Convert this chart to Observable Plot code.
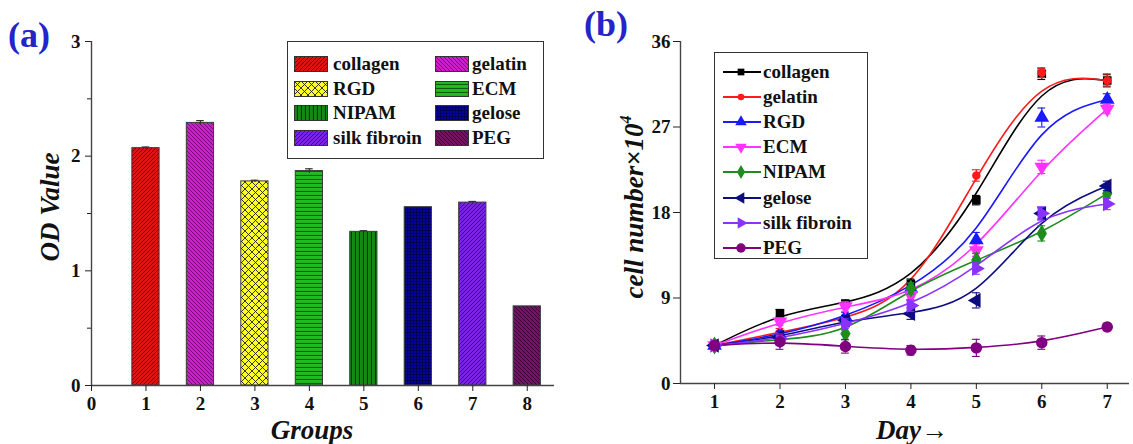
<!DOCTYPE html>
<html><head><meta charset="utf-8">
<script src="https://cdn.jsdelivr.net/npm/d3@7"></script>
<script src="https://cdn.jsdelivr.net/npm/@observablehq/plot@0.6"></script>
<style>
body{margin:0;background:#fff;}
#wrap{position:relative;width:1133px;height:444px;overflow:hidden;font-family:'Liberation Serif','DejaVu Serif',serif;color:#111;}
.abs{position:absolute;}
.panel{position:absolute;top:0;}
.plab{position:absolute;font-weight:bold;font-size:36px;color:#2424c8;line-height:1;font-family:'Liberation Serif','DejaVu Serif',serif;}
.atitle{position:absolute;font-weight:bold;font-style:italic;font-size:27px;line-height:1;white-space:nowrap;font-family:'Liberation Serif','DejaVu Serif',serif;}
.legbox{position:absolute;border:1.4px solid #333;background:#fff;box-sizing:border-box;}
.legtxt{position:absolute;font-weight:bold;font-size:19px;line-height:1;white-space:nowrap;font-family:'Liberation Serif','DejaVu Serif',serif;}
</style></head>
<body><div id="wrap"></div>
<script>
// ---------- Panel (a) data ----------
const groupTicks = [0, 1, 2, 3, 4, 5, 6, 7, 8];
const groups = [1, 2, 3, 4, 5, 6, 7, 8];
const materials = ["collagen", "gelatin", "RGD", "ECM", "NIPAM", "gelose", "silk fibroin", "PEG"];
const odValues = [2.07, 2.29, 1.78, 1.87, 1.34, 1.555, 1.595, 0.69];
const odErrors = [0.01, 0.02, 0.01, 0.02, 0.01, 0, 0.01, 0];
const odTicks = [0, 1, 2, 3];
const odMinorTicks = [0.5, 1.5, 2.5];

// ---------- Panel (b) data ----------
const days = [1, 2, 3, 4, 5, 6, 7];
const seriesNames = ["collagen", "gelatin", "RGD", "ECM", "NIPAM", "gelose", "silk fibroin", "PEG"];
const collagenCells = [4.0, 7.4, 8.4, 10.5, 19.3, 32.6, 31.9];
const gelatinCells  = [4.0, 5.4, 6.8, 9.3, 21.9, 32.7, 31.9];
const rgdCells      = [4.0, 5.1, 7.0, 10.0, 15.1, 28.0, 29.9];
const ecmCells      = [4.0, 6.5, 8.1, 9.3, 14.0, 22.8, 28.9];
const nipamCells    = [4.0, 4.6, 5.25, 10.0, 13.0, 15.8, 20.0];
const geloseCells   = [4.0, 4.9, 6.65, 7.35, 8.75, 17.9, 20.8];
const silkCells     = [4.0, 4.7, 6.3, 8.2, 12.1, 17.9, 18.9];
const pegCells      = [4.0, 4.4, 3.9, 3.5, 3.75, 4.3, 5.95];
const collagenErr = [0.3, 0.4, 0.4, 0.5, 0.5, 0.6, 0.6];
const gelatinErr  = [0.3, 0.4, 0.4, 0.5, 0.6, 0.5, 0.7];
const rgdErr      = [0.3, 0.4, 0.5, 0.5, 0.8, 1.0, 0.6];
const ecmErr      = [0.3, 0.4, 0.5, 0.5, 0.6, 0.7, 0.5];
const nipamErr    = [0.3, 0.5, 0.6, 0.6, 0.7, 0.8, 0.5];
const geloseErr   = [0.3, 0.5, 0.5, 0.6, 0.8, 0.6, 0.5];
const silkErr     = [0.3, 0.5, 0.5, 0.6, 0.6, 0.7, 0.6];
const pegErr      = [0.3, 0.8, 0.7, 0.5, 0.9, 0.7, 0.4];
const cellTicks = [0, 9, 18, 27, 36];

// ---------- styles ----------
const barBase  = ["#dc1414", "#cc1fcc", "#ffff26", "#22bb22", "#138a13", "#050596", "#7a22e6", "#761264"];
const barLine  = ["#7a0000", "#7a0a7a", "#222", "#0b5e0b", "#023a02", "#00004a", "#3c0a8c", "#3a0030"];
const seriesColors = ["#000000", "#ff1a1a", "#1a1aff", "#ff33ff", "#1e8c1e", "#0d0d80", "#8a33ff", "#800080"];
const seriesSymbols = ["square", "circle", "triangle", "triangle", "diamond", "triangle", "triangle", "circle"];
const seriesRotate = [0, 0, 0, 180, 0, -90, 90, 0];
const seriesR = [4, 3.5, 4.5, 4.5, 4.5, 4.5, 4.5, 5];

const wrap = document.getElementById("wrap");

// ---------- pattern defs ----------
function patternDef(i) {
  const id = "pat" + i, b = barBase[i], l = barLine[i];
  const kind = ["fwd", "back", "cross", "horiz", "vert", "grid", "fwd", "back"][i];
  let inner = `<rect width="8" height="8" fill="${b}"/>`;
  let size = 4;
  if (kind === "fwd") inner = `<rect width="4" height="4" fill="${b}"/><path d="M-1,1 l2,-2 M0,4 l4,-4 M3,5 l2,-2" stroke="${l}" stroke-width="1"/>`;
  if (kind === "back") inner = `<rect width="4" height="4" fill="${b}"/><path d="M-1,3 l2,2 M0,0 l4,4 M3,-1 l2,2" stroke="${l}" stroke-width="1"/>`;
  if (kind === "cross") { size = 7; inner = `<rect width="7" height="7" fill="${b}"/><path d="M0,0 L7,7 M7,0 L0,7" stroke="${l}" stroke-width="0.9"/>`; }
  if (kind === "horiz") inner = `<rect width="4" height="4" fill="${b}"/><path d="M0,3.5 H4" stroke="${l}" stroke-width="1.2"/>`;
  if (kind === "vert") inner = `<rect width="4" height="4" fill="${b}"/><path d="M3.5,0 V4" stroke="${l}" stroke-width="1.2"/>`;
  if (kind === "grid") { size = 3; inner = `<rect width="3" height="3" fill="${b}"/><path d="M2.5,0 V3 M0,2.5 H3" stroke="${l}" stroke-width="0.8"/>`; }
  return `<pattern id="${id}" patternUnits="userSpaceOnUse" width="${size}" height="${size}">${inner}</pattern>`;
}
const defsSvg = `<svg width="0" height="0" style="position:absolute"><defs>${materials.map((m, i) => patternDef(i)).join("")}</defs></svg>`;
wrap.insertAdjacentHTML("beforeend", defsSvg);

const font = "'Liberation Serif','DejaVu Serif',serif";

// ---------- Panel (a) ----------
const barData = groups.map((g, i) => ({g, v: odValues[i], e: odErrors[i], pat: `url(#pat${i})`}));
const plotA = Plot.plot({
  width: 566, height: 444,
  marginLeft: 91, marginRight: 12, marginTop: 41, marginBottom: 59,
  x: {domain: [0, 8.5], label: null},
  y: {domain: [0, 3], label: null},
  color: {type: "identity"},
  style: {fontFamily: font, fontWeight: "bold", fontSize: "19px", color: "#222", background: "transparent"},
  marks: [
    Plot.rectY(barData, {x1: d => d.g - 0.25, x2: d => d.g + 0.25, y1: 0, y2: "v", fill: "pat", stroke: "#3a3a3a", strokeWidth: 1}),
    Plot.ruleX(barData.filter(d => d.e > 0), {x: "g", y1: d => d.v - d.e, y2: d => d.v + d.e, stroke: "#333", strokeWidth: 1.2}),
    Plot.ruleY(barData.filter(d => d.e > 0), {y: d => d.v + d.e, x1: d => d.g - 0.07, x2: d => d.g + 0.07, stroke: "#333", strokeWidth: 1.2}),
    Plot.ruleY([0], {stroke: "#444", strokeWidth: 1.4}),
    Plot.ruleX([0], {stroke: "#444", strokeWidth: 1.4}),
    Plot.axisX({ticks: groupTicks, tickSize: 6, tickPadding: 5, label: null, tickFormat: d => String(d), fill: "#111"}),
    Plot.axisY({ticks: odTicks, tickSize: 6, tickPadding: 5, label: null, tickFormat: d => String(d), fill: "#111"}),
    Plot.axisY({ticks: odMinorTicks, tickSize: 4, label: null, tickFormat: () => ""})
  ]
});
plotA.classList.add("panel");
plotA.style.left = "0px";
wrap.appendChild(plotA);

// ---------- Panel (b) ----------
const cellSeries = [collagenCells, gelatinCells, rgdCells, ecmCells, nipamCells, geloseCells, silkCells, pegCells];
const errSeries = [collagenErr, gelatinErr, rgdErr, ecmErr, nipamErr, geloseErr, silkErr, pegErr];
const bMarks = [];
seriesNames.forEach((name, si) => {
  const rows = days.map((d, k) => ({day: d, v: cellSeries[si][k], e: errSeries[si][k]}));
  bMarks.push(Plot.line(rows, {x: "day", y: "v", curve: "basis", stroke: seriesColors[si], strokeWidth: 1.6}));
});
seriesNames.forEach((name, si) => {
  const rows = days.map((d, k) => ({day: d, v: cellSeries[si][k], e: errSeries[si][k]}));
  bMarks.push(Plot.ruleX(rows, {x: "day", y1: d => d.v - d.e, y2: d => d.v + d.e, stroke: seriesColors[si], strokeWidth: 1.1}));
  bMarks.push(Plot.ruleY(rows, {y: d => d.v + d.e, x1: d => d.day - 0.06, x2: d => d.day + 0.06, stroke: seriesColors[si], strokeWidth: 1.1}));
  bMarks.push(Plot.ruleY(rows, {y: d => d.v - d.e, x1: d => d.day - 0.06, x2: d => d.day + 0.06, stroke: seriesColors[si], strokeWidth: 1.1}));
  bMarks.push(Plot.dot(rows, {x: "day", y: "v", symbol: seriesSymbols[si], rotate: seriesRotate[si], r: seriesR[si], fill: seriesColors[si], stroke: seriesColors[si]}));
});
const plotB = Plot.plot({
  width: 567, height: 444,
  marginLeft: 114, marginRight: 4, marginTop: 41, marginBottom: 61,
  x: {domain: [0.48, 7.34], label: null},
  y: {domain: [0, 36], label: null},
  style: {fontFamily: font, fontWeight: "bold", fontSize: "19px", color: "#222", background: "transparent"},
  marks: [
    ...bMarks,
    Plot.ruleY([0], {stroke: "#444", strokeWidth: 1.4}),
    Plot.ruleX([0.48], {stroke: "#444", strokeWidth: 1.4}),
    Plot.axisX({ticks: days, tickSize: 6, tickPadding: 5, label: null, tickFormat: d => String(d), fill: "#111"}),
    Plot.axisY({ticks: cellTicks, tickSize: 7, tickPadding: 3, label: null, tickFormat: d => String(d), fill: "#111"})
  ]
});
plotB.classList.add("panel");
plotB.style.left = "566px";
wrap.appendChild(plotB);
[plotA, plotB].forEach(s => s.querySelectorAll("text, g").forEach(t => t.style.fontFamily = font));

// ---------- text overlays ----------
function addDiv(cls, html, css) {
  const d = document.createElement("div");
  d.className = cls; d.innerHTML = html;
  Object.assign(d.style, css);
  wrap.appendChild(d);
  return d;
}
addDiv("plab", "(a)", {left: "8px", top: "17px"});
addDiv("plab", "(b)", {left: "584px", top: "6px"});
addDiv("atitle", "OD Value", {left: "50px", top: "207px", transform: "translate(-50%,-50%) rotate(-90deg)"});
addDiv("atitle", "Groups", {left: "312px", top: "430px", transform: "translate(-50%,-50%)"});
addDiv("atitle", "cell number×10<sup style='font-size:16px;vertical-align:12px'>4</sup>", {left: "633px", top: "207px", transform: "translate(-50%,-50%) rotate(-90deg)"});
addDiv("atitle", "Day→", {left: "912px", top: "430px", transform: "translate(-50%,-50%)"});

// ---------- legend (a) ----------
addDiv("legbox", "", {left: "287px", top: "41px", width: "257px", height: "118px"});
materials.forEach((m, i) => {
  const col = i % 2, row = Math.floor(i / 2);
  const sx = col === 0 ? 294 : 435, tx = col === 0 ? 333 : 472;
  const cy = 64 + row * 24.7;
  addDiv("abs", `<svg width="34" height="16"><rect x="0.5" y="0.5" width="33" height="15" fill="url(#pat${i})" stroke="#333" stroke-width="1"/></svg>`, {left: sx + "px", top: (cy - 8) + "px", lineHeight: 0});
  addDiv("legtxt", m, {left: tx + "px", top: (cy - 10) + "px"});
});

// ---------- legend (b) ----------
addDiv("legbox", "", {left: "714px", top: "52px", width: "154px", height: "207px"});
seriesNames.forEach((m, i) => {
  const cy = 71.5 + i * 25.2;
  const sym = {square: d3.symbolSquare, circle: d3.symbolCircle, triangle: d3.symbolTriangle, diamond: d3.symbolDiamond}[seriesSymbols[i]];
  const r = seriesR[i];
  const path = d3.symbol(sym, Math.PI * r * r * 0.9)();
  addDiv("abs", `<svg width="40" height="16"><line x1="1" y1="8" x2="39" y2="8" stroke="${seriesColors[i]}" stroke-width="1.8"/><path d="${path}" transform="translate(19,8) rotate(${seriesRotate[i]})" fill="${seriesColors[i]}"/></svg>`, {left: "722px", top: (cy - 8) + "px", lineHeight: 0});
  addDiv("legtxt", m, {left: "763px", top: (cy - 10) + "px"});
});
</script>
</body></html>
